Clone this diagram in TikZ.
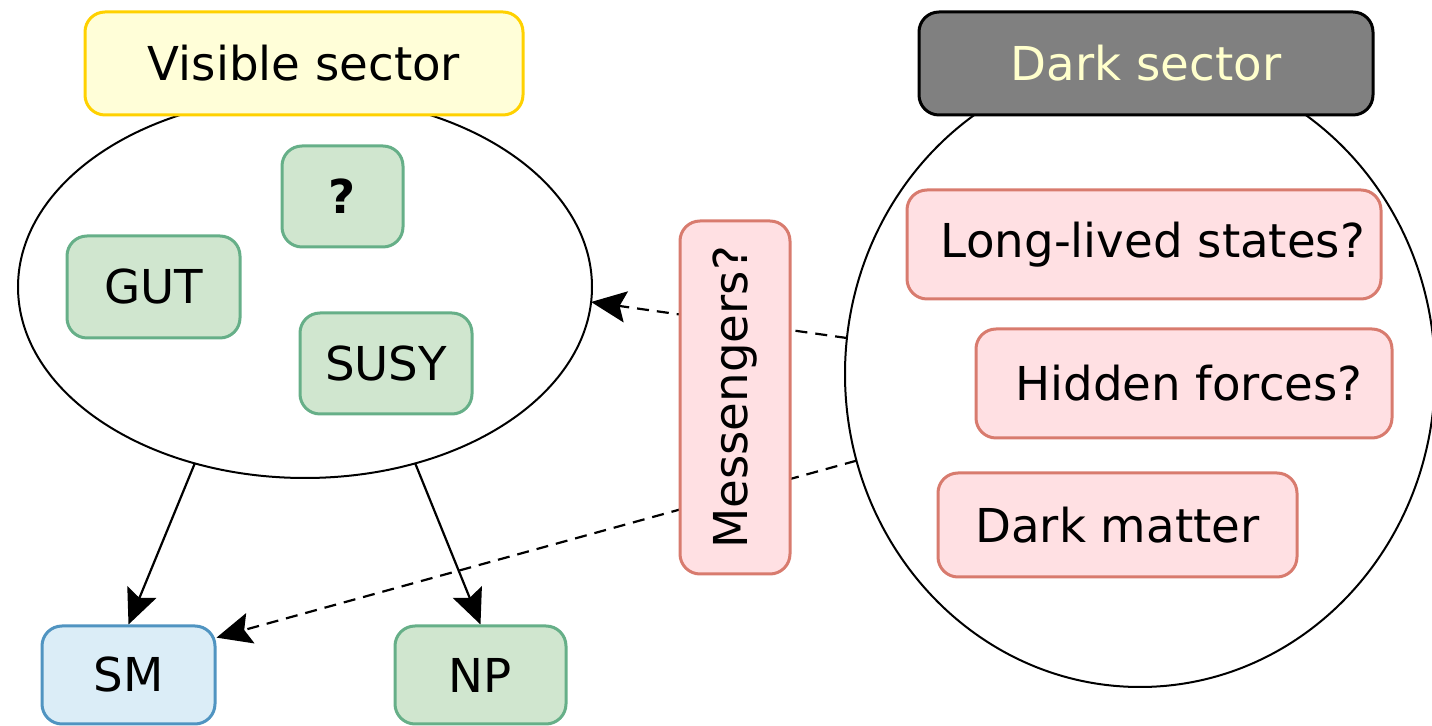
\documentclass[tikz,border=0pt]{standalone}
\usepackage{fontspec}
\setmainfont{DejaVu Sans}
\usetikzlibrary{shapes.geometric,arrows.meta,backgrounds}
\definecolor{yfill}{HTML}{FFFED8}
\definecolor{yline}{HTML}{FFD100}
\definecolor{gfill}{HTML}{D0E6CF}
\definecolor{gline}{HTML}{66AF88}
\definecolor{bfill}{HTML}{DBEDF7}
\definecolor{bline}{HTML}{5094C1}
\definecolor{pfill}{HTML}{FFE0E3}
\definecolor{pline}{HTML}{D87B6E}
\definecolor{dfill}{HTML}{808080}
\definecolor{dtext}{HTML}{FFFFCC}
\begin{document}
\begin{tikzpicture}[x=0.5pt,y=-0.5pt,
  boxbase/.style={draw, rounded corners=10pt, line width=1.5pt, inner sep=0pt,
    font=\fontsize{23.35pt}{28pt}\selectfont},
  greenbox/.style={boxbase, fill=gfill, draw=gline},
  bluebox/.style={boxbase, fill=bfill, draw=bline},
  pinkbox/.style={boxbase, fill=pfill, draw=pline},
  yellowbox/.style={boxbase, fill=yfill, draw=yline},
  darkbox/.style={boxbase, fill=dfill, draw=black, text=dtext},
  sector/.style={ellipse, draw, line width=1pt, inner sep=0pt, outer sep=0pt},
  solidarrow/.style={line width=1.1pt, -{Stealth[length=14pt,width=12.5pt,inset=2.5pt,scale=1.25]}},
  dasharrow/.style={solidarrow, dash pattern=on 6pt off 4pt}
]
\useasboundingbox (0,0) rectangle (1432,726);

% sector outlines
\node[sector, minimum width=287pt, minimum height=191pt] (vis) at (305,287) {};
\node[sector, minimum width=295pt, minimum height=313pt] (dark) at (1140,374) {};

% headers
\node[yellowbox, minimum width=219pt, minimum height=51.5pt] (vishead) at (304,63.5) {Visible sector};
\node[darkbox, minimum width=227pt, minimum height=51.5pt] (darkhead) at (1146,63.5) {Dark sector};

% visible contents
\node[greenbox, minimum width=60.5pt, minimum height=50.5pt, font=\fontsize{23.35pt}{28pt}\selectfont\bfseries] (q) at (342.5,196.5) {?};
\node[greenbox, minimum width=86.5pt, minimum height=51pt] (gut) at (153.5,287) {GUT};
\node[greenbox, minimum width=86pt, minimum height=50.5pt] (susy) at (386,363.5) {SUSY};

% outputs
\node[bluebox, minimum width=86.5pt, minimum height=49pt] (sm) at (128.5,675) {SM};
\node[greenbox, minimum width=85.5pt, minimum height=49pt] (np) at (480.5,675) {NP};

% messengers
\node[pinkbox, rotate=90, minimum width=176.5pt, minimum height=55pt] (mess) at (735,397.5) {Messengers?};

% dark contents
\node[pinkbox, minimum width=237pt, minimum height=54.5pt] (llp) at (1144,244.5) {\hspace*{9pt}Long-lived states?};
\node[pinkbox, minimum width=208pt, minimum height=54.5pt] (hf) at (1184,383.5) {\hspace*{5pt}Hidden forces?};
\node[pinkbox, minimum width=179.5pt, minimum height=52pt] (dm) at (1117.5,525) {Dark matter};

% connectors
\begin{scope}[on background layer]
\draw[solidarrow] (vis.238.4) -- (sm.north);
\draw[solidarrow] (vis.-58.9) -- (np.north);
\draw[dasharrow] (dark.173) -- (vis.-3.6);
\draw[dasharrow] (dark.197) -- (sm.23);
\end{scope}
\end{tikzpicture}
\end{document}
